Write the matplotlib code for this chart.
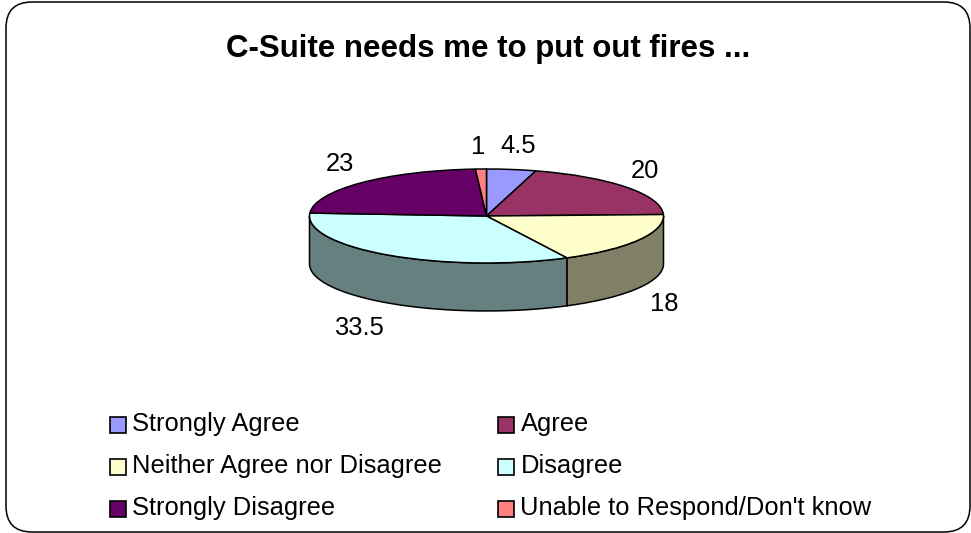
import numpy as np
import matplotlib
matplotlib.use("Agg")
import matplotlib.pyplot as plt
from matplotlib.patches import FancyBboxPatch, Rectangle

plt.rcParams['font.family'] = ['Liberation Sans', 'DejaVu Sans']

title = "C-Suite needs me to put out fires ..."
categories = ["Strongly Agree", "Agree", "Neither Agree nor Disagree", "Disagree",
              "Strongly Disagree", "Unable to Respond/Don't know"]
values = [4.5, 20, 18, 33.5, 23, 1]
value_labels = ["4.5", "20", "18", "33.5", "23", "1"]
colors = ["#9999FF", "#993366", "#FFFFCC", "#CCFFFF", "#660066", "#FF8080"]
side_colors = ["#4D4D80", "#4D1A33", "#808066", "#668080", "#330033", "#804040"]

W, H = 971, 533
fig = plt.figure(figsize=(W / 100, H / 100), dpi=100, facecolor="white")

# overlay in pixel coordinates
bg = fig.add_axes([0, 0, 1, 1])
bg.set_xlim(0, W)
bg.set_ylim(H, 0)
bg.axis("off")
bg.add_patch(FancyBboxPatch((6, 2), 964, 530, boxstyle="round,pad=0,rounding_size=26",
                            fc="white", ec="black", lw=1.1))
bg.text(488, 49, title, fontsize=22.5, fontweight="bold", ha="center", va="center")

# pie: unit-circle data squeezed into an ellipse, with a wall one minor radius deep
cx, cy, rx, ry = 486.5, 216, 177, 47
depth = 1.02  # data units below the top face
pie_bottom = cy + ry * (1 + depth)
pax = fig.add_axes([(cx - rx) / W, 1 - pie_bottom / H, 2 * rx / W, (pie_bottom - (cy - ry)) / H])
wedges, _ = pax.pie(values, colors=colors, startangle=90, counterclock=False,
                    wedgeprops=dict(edgecolor="black", linewidth=1.1, clip_on=False, zorder=3))
pax.set_aspect("auto")
pax.set_xlim(-1, 1)
pax.set_ylim(-1 - depth, 1)
pax.axis("off")

# side walls from the same values
edges = np.cumsum([0] + values) / np.sum(values) * 360.0
for i in range(len(values)):
    a0, a1 = max(edges[i], 90), min(edges[i + 1], 270)
    if a1 <= a0:
        continue
    t = np.radians(np.linspace(a0, a1, 80))
    x, y = np.sin(t), np.cos(t)
    pax.fill(np.r_[x, x[::-1]], np.r_[y, y[::-1] - depth], fc=side_colors[i], ec="black",
             lw=1.1, zorder=2, clip_on=False)

# value labels
label_xy = [(518, 146), (645, 171), (664, 304), (359, 328), (340, 164), (478, 147)]
for s, (x, y) in zip(value_labels, label_xy):
    bg.text(x, y, s, fontsize=18.4, ha="center", va="center", zorder=5)

# legend, row first
col_x = [110, 498]
row_y = [416.5, 458.5, 500.5]
for i, (name, c) in enumerate(zip(categories, colors)):
    px, py = col_x[i % 2], row_y[i // 2]
    bg.add_patch(Rectangle((px, py), 16, 16, fc=c, ec="black", lw=1.2))
    bg.text(px + 22.5, py + 7, name, fontsize=18.4, ha="left", va="center")

fig.savefig("out.png", dpi=100, facecolor="white")
